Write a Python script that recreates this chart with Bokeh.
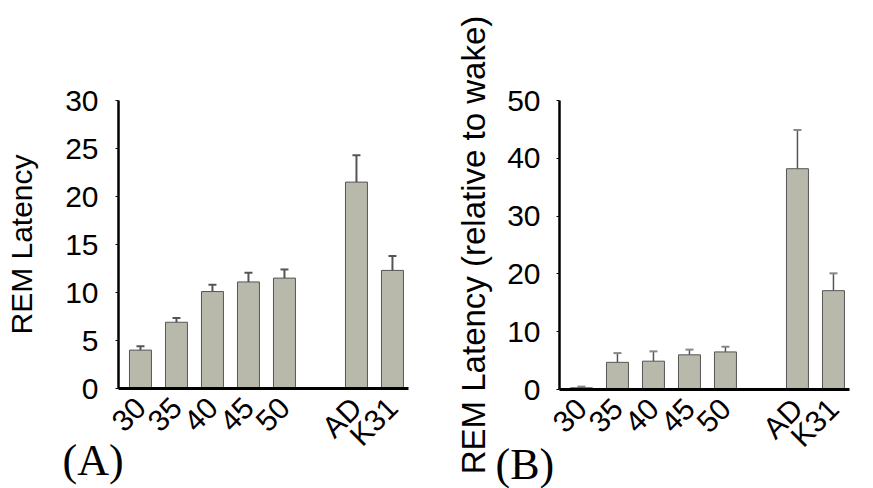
import numpy as np
from bokeh.plotting import figure
from bokeh.models import ColumnDataSource, Range1d, FixedTicker, Whisker, TeeHead, Label
from bokeh.layouts import row
from bokeh.embed import file_html
from bokeh.resources import INLINE

# ---- data ----
slots = ["30", "35", "40", "45", "50", "", "AD", "K31"]   # "" = empty gap slot
groups = ["30", "35", "40", "45", "50", "AD", "K31"]
latency_a = [4.0, 6.9, 10.1, 11.1, 11.5, 21.5, 12.3]
err_a = [0.4, 0.45, 0.7, 0.95, 0.9, 2.8, 1.5]
latency_b = [0.3, 4.7, 4.9, 6.0, 6.5, 38.2, 17.1]
err_b = [0.2, 1.6, 1.7, 0.9, 0.9, 6.7, 3.0]
title_a = "REM Latency"
title_b = "REM Latency (relative to wake)"

BAR_FILL = "#b9b9ab"
BAR_LINE = "#555555"
SANS = "Liberation Sans"
SERIF = "Liberation Serif"

H = 488          # canvas height
TOP = 100        # px from canvas top to top of value axis
SLOT_PX = 36     # px per category slot
X_LO, X_HI = -0.61, 7.44   # extent of the plotting area in slot units


def make_panel(values, errs, ymax, ystep, ytitle, tag, width, axis_px,
               zero_px, title_size, title_standoff, label_standoff,
               tag_left_px, tag_mid_px, err_width, cap_color):
    pos = [slots.index(g) for g in groups]
    src = ColumnDataSource(dict(
        x=pos, top=values, hi=[v + e for v, e in zip(values, errs)]))

    px_per_y = (zero_px - TOP) / ymax
    x0 = X_LO - axis_px / SLOT_PX
    y0 = -(H - zero_px) / px_per_y
    x_range = Range1d(x0, X_LO + (width - axis_px) / SLOT_PX)
    y_range = Range1d(y0, ymax + TOP / px_per_y)

    p = figure(width=width, height=H, output_backend="svg",
               toolbar_location=None, x_range=x_range, y_range=y_range,
               min_border=0, min_border_left=0, min_border_right=0,
               min_border_top=0, min_border_bottom=0)
    p.outline_line_color = None
    p.grid.grid_line_color = None
    p.background_fill_color = "white"
    p.border_fill_color = "white"

    p.vbar(x="x", top="top", width=0.61, source=src,
           fill_color=BAR_FILL, line_color=BAR_LINE, line_width=1)
    w = Whisker(source=src, base="x", lower="top", upper="hi",
                dimension="height", line_color="#555555",
                line_width=err_width, lower_head=None,
                upper_head=TeeHead(size=8, line_color=cap_color,
                                   line_width=2))
    p.add_layout(w)

    # y axis
    ya = p.yaxis[0]
    ya.fixed_location = X_LO
    ya.bounds = (0, ymax)
    ya.ticker = FixedTicker(ticks=list(range(0, ymax + 1, ystep)))
    ya.minor_tick_line_color = None
    ya.major_tick_in = 0
    ya.major_tick_out = 3
    ya.major_tick_line_color = "black"
    ya.axis_line_color = "black"
    ya.axis_line_width = 2.5
    ya.major_label_text_font = SANS
    ya.major_label_text_font_size = "30px"
    ya.major_label_text_color = "black"
    ya.major_label_standoff = label_standoff
    ya.axis_label = ytitle
    ya.axis_label_text_font = SANS
    ya.axis_label_text_font_style = "normal"
    ya.axis_label_text_font_size = title_size
    ya.axis_label_text_color = "black"
    ya.axis_label_standoff = title_standoff

    # x axis
    xa = p.xaxis[0]
    xa.fixed_location = 0
    xa.bounds = (X_LO, X_HI)
    xa.ticker = FixedTicker(ticks=pos)
    xa.major_label_overrides = {i: g for i, g in zip(pos, groups)}
    xa.major_label_orientation = np.pi / 4
    xa.major_tick_line_color = None
    xa.minor_tick_line_color = None
    xa.axis_line_color = "black"
    xa.axis_line_width = 3
    xa.major_label_text_font = SANS
    xa.major_label_text_font_size = "30px"
    xa.major_label_text_color = "black"
    xa.major_label_standoff = 8

    # panel tag, positioned through the plot's own scales
    p.add_layout(Label(x=x0 + tag_left_px / SLOT_PX,
                       y=y0 + (H - tag_mid_px) / px_per_y,
                       text=tag, text_font=SERIF, text_font_size="44px",
                       text_color="black", text_baseline="middle"))
    return p


pa = make_panel(latency_a, err_a, 30, 5, title_a, "(A)", 440, 118, 388,
                "30px", 24, 17, 62, 460, 2, "#555555")
pb = make_panel(latency_b, err_b, 50, 10, title_b, "(B)", 433, 119, 389,
                "33px", 12, 16, 55, 464, 1.5, "#888888")

layout = row(pa, pb)
open("out.html", "w").write(file_html(layout, INLINE))
